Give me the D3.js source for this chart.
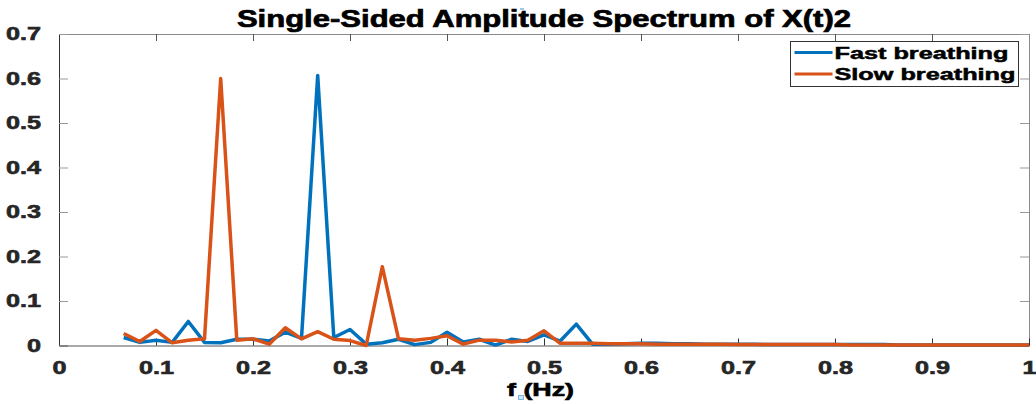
<!DOCTYPE html>
<html>
<head>
<meta charset="utf-8">
<script src="https://cdn.jsdelivr.net/npm/d3@7"></script>
<style>
  html, body { margin: 0; padding: 0; background: #fff; }
  svg { display: block; font-family: "Liberation Sans", Arial, sans-serif; font-weight: bold; }
</style>
</head>
<body>
<script>
// frequency bins (Hz)
const freqs = [0.0667, 0.0833, 0.1000, 0.1167, 0.1333, 0.1500, 0.1667, 0.1833, 0.2000, 0.2167,
  0.2333, 0.2500, 0.2667, 0.2833, 0.3000, 0.3167, 0.3333, 0.3500, 0.3667, 0.3833,
  0.4000, 0.4167, 0.4333, 0.4500, 0.4667, 0.4833, 0.5000, 0.5167, 0.5333, 0.5500,
  0.5667, 0.5833, 0.6000, 0.6167, 0.6333, 0.6500, 0.6667, 0.6833, 0.7000, 0.7167,
  0.7333, 0.7500, 0.7667, 0.7833, 0.8000, 0.8167, 0.8333, 0.8500, 0.8667, 0.8833,
  0.9000, 0.9167, 0.9333, 0.9500, 0.9667, 0.9833, 1.0000];

const fastBreathing = [0.018, 0.007, 0.012, 0.007, 0.054, 0.007, 0.006, 0.014, 0.014, 0.010,
  0.030, 0.016, 0.607, 0.018, 0.036, 0.003, 0.006, 0.014, 0.002, 0.007,
  0.030, 0.008, 0.014, 0.001, 0.014, 0.009, 0.024, 0.010, 0.048, 0.003,
  0.003, 0.004, 0.005, 0.005, 0.004, 0.004, 0.003, 0.003, 0.003, 0.003,
  0.002, 0.002, 0.002, 0.002, 0.002, 0.002, 0.002, 0.002, 0.001, 0.001,
  0.001, 0.001, 0.001, 0.001, 0.001, 0.001, 0.001];

const slowBreathing = [0.027, 0.009, 0.034, 0.006, 0.012, 0.015, 0.600, 0.012, 0.015, 0.003,
  0.040, 0.015, 0.031, 0.014, 0.011, 0.000, 0.177, 0.015, 0.012, 0.016,
  0.022, 0.003, 0.012, 0.012, 0.008, 0.012, 0.033, 0.005, 0.005, 0.005,
  0.004, 0.004, 0.004, 0.003, 0.003, 0.003, 0.003, 0.003, 0.002, 0.002,
  0.002, 0.002, 0.002, 0.002, 0.002, 0.001, 0.001, 0.001, 0.001, 0.001,
  0.001, 0.001, 0.001, 0.001, 0.001, 0.001, 0.001];

const seriesNames = ['Fast breathing', 'Slow breathing'];
const xTicks = [0, 0.1, 0.2, 0.3, 0.4, 0.5, 0.6, 0.7, 0.8, 0.9, 1];
const yTicks = [0, 0.1, 0.2, 0.3, 0.4, 0.5, 0.6, 0.7];

const width = 1036, height = 404;
const margin = { top: 34, right: 7, bottom: 58.5, left: 59 };
const colors = ['#0072BD', '#D95319'];

const svg = d3.select('body').append('svg')
  .attr('width', width)
  .attr('height', height);

const x = d3.scaleLinear().domain([0, 1]).range([margin.left, width - margin.right]);
const y = d3.scaleLinear().domain([0, 0.7]).range([height - margin.bottom, margin.top]);

// text in the reference is wider and heavier than the font renders
function stretch(sel, k) {
  sel.each(function () {
    const len = this.getComputedTextLength();
    d3.select(this).attr('textLength', len * k).attr('lengthAdjust', 'spacingAndGlyphs');
  });
}
function heavy(sel, c, w) {
  sel.attr('stroke', c).attr('stroke-width', w).attr('paint-order', 'stroke');
}

const fmt = (d) => (d === 0 ? '0' : d === 1 ? '1' : d3.format('.1f')(d));

// box (top + right)
svg.append('g')
  .attr('transform', `translate(0,${margin.top})`)
  .call(d3.axisTop(x).tickValues(xTicks).tickSize(-7).tickFormat(''))
  .call((g) => g.select('.domain').attr('stroke', '#8a8a8a'))
  .call((g) => g.selectAll('.tick line').attr('stroke', '#555'));

svg.append('g')
  .attr('transform', `translate(${width - margin.right},0)`)
  .call(d3.axisRight(y).tickValues(yTicks).tickSize(-9).tickFormat(''))
  .call((g) => g.select('.domain').attr('stroke', '#8a8a8a'))
  .call((g) => g.selectAll('.tick line').attr('stroke', '#999'));

// x axis
const xAxis = svg.append('g')
  .attr('transform', `translate(0,${height - margin.bottom})`)
  .call(d3.axisBottom(x).tickValues(xTicks).tickSize(-7).tickPadding(16).tickFormat(fmt));
xAxis.select('.domain').attr('stroke', '#555');
xAxis.selectAll('.tick line').attr('stroke', '#333');
xAxis.selectAll('.tick text')
  .attr('font-size', 18).attr('font-weight', 'bold').attr('fill', '#262626')
  .attr('font-family', '"Liberation Sans", Arial, sans-serif')
  .call(heavy, '#262626', 0.6)
  .call(stretch, 1.4);

// y axis
const yAxis = svg.append('g')
  .attr('transform', `translate(${margin.left},0)`)
  .call(d3.axisLeft(y).tickValues(yTicks).tickSize(-9).tickPadding(18).tickFormat(fmt));
yAxis.select('.domain').attr('stroke', '#333');
yAxis.selectAll('.tick line').attr('stroke', '#999');
yAxis.selectAll('.tick text')
  .attr('font-size', 18).attr('font-weight', 'bold').attr('fill', '#262626')
  .attr('font-family', '"Liberation Sans", Arial, sans-serif')
  .call(heavy, '#262626', 0.6)
  .call(stretch, 1.4);

// lines
const line = d3.line()
  .x((d, i) => x(freqs[i]))
  .y((d) => y(d));

[fastBreathing, slowBreathing].forEach((vals, i) => {
  svg.append('path')
    .datum(vals)
    .attr('fill', 'none')
    .attr('stroke', colors[i])
    .attr('stroke-width', 3.5)
    .attr('stroke-linejoin', 'round')
    .attr('d', line);
});

// title
svg.append('text')
  .attr('x', (margin.left + width - margin.right) / 2)
  .attr('y', 27)
  .attr('text-anchor', 'middle')
  .attr('font-size', 23.5)
  .attr('fill', '#000')
  .text('Single-Sided Amplitude Spectrum of X(t)2')
  .call(heavy, '#000', 0.7)
  .call(stretch, 1.32);
svg.append('rect')
  .attr('x', 520).attr('y', 8).attr('width', 4).attr('height', 2)
  .attr('fill', '#9cc7ec');

// x label
svg.append('text')
  .attr('x', 507)
  .attr('y', 396)
  .attr('font-size', 18.5)
  .attr('fill', '#000')
  .text('f  (Hz)')
  .call(heavy, '#000', 0.6)
  .call(stretch, 1.45);
svg.append('rect')
  .attr('x', 518.5).attr('y', 395.5).attr('width', 5).attr('height', 4)
  .attr('fill', '#cfe3f7').attr('stroke', '#7fb4e6').attr('stroke-width', 1);

// legend
const legend = svg.append('g').attr('transform', 'translate(790.5,41.5)');
legend.append('rect')
  .attr('width', 228).attr('height', 45)
  .attr('fill', '#fff').attr('stroke', '#333').attr('stroke-width', 1);
seriesNames.forEach((name, i) => {
  const ly = 11 + i * 21.5;
  legend.append('line')
    .attr('x1', 4).attr('x2', 42).attr('y1', ly).attr('y2', ly)
    .attr('stroke', colors[i]).attr('stroke-width', 3);
  legend.append('text')
    .attr('x', 44).attr('y', ly + 6)
    .attr('font-size', 16.5).attr('fill', '#000')
    .text(name)
    .call(heavy, '#000', 0.5)
    .call(stretch, 1.53);
});
</script>
</body>
</html>
